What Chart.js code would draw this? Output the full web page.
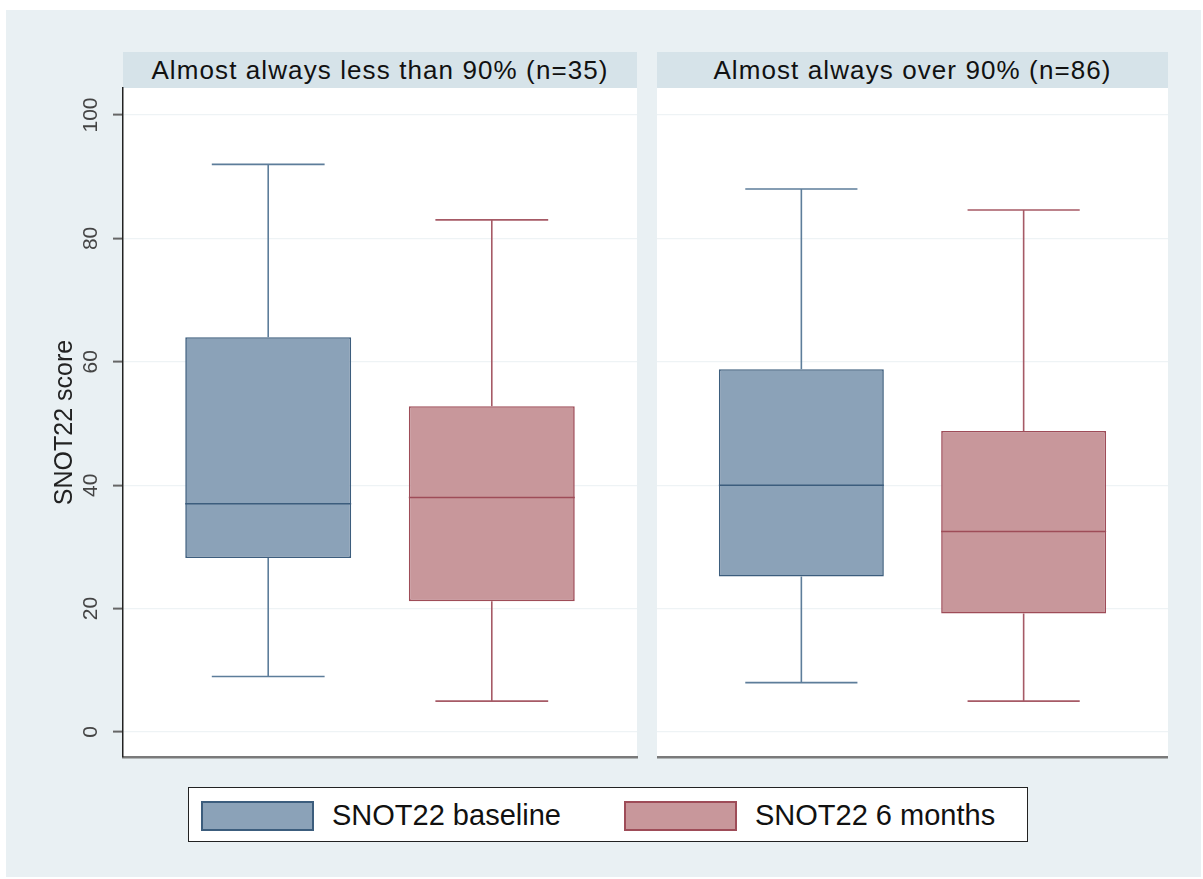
<!DOCTYPE html>
<html>
<head>
<meta charset="utf-8">
<script src="https://cdn.jsdelivr.net/npm/chart.js@4.4.1/dist/chart.umd.min.js"></script>
<style>
  html, body { margin:0; padding:0; background:#ffffff; width:1203px; height:879px; overflow:hidden; }
  #bg { position:absolute; left:6px; top:10px; width:1195px; height:867px; background:#e9f0f3; }
  .hdr { position:absolute; top:52px; height:36px; background:#d6e3e9; color:#111;
         font-family:"Liberation Sans", Arial, sans-serif; font-size:26px; letter-spacing:1.1px;
         line-height:36px; text-align:center; white-space:nowrap; }
  .cv { position:absolute; top:52px; }
  #legend { position:absolute; left:188px; top:787px; width:838px; height:53px; background:#fff;
            border:1.5px solid #222; font-family:"Liberation Sans", Arial, sans-serif; font-size:29px; color:#111; }
  .sw { position:absolute; top:13px; width:109px; height:26px; border:2px solid; }
  .lt { position:absolute; top:0; line-height:55px; white-space:nowrap; }
</style>
</head>
<body>
<div id="bg"></div>
<div class="hdr" id="h0" style="left:123px;width:514px;"></div>
<div class="hdr" id="h1" style="left:657px;width:511px;"></div>
<div class="cv" style="left:0px;width:640px;height:730px;"><canvas id="c0"></canvas></div>
<div class="cv" style="left:657px;width:511px;height:730px;"><canvas id="c1"></canvas></div>
<div id="legend"></div>
<script>
// ---- data ----
const panelTitles = ["Almost always less than 90% (n=35)", "Almost always over 90% (n=86)"];
const seriesNames = ["SNOT22 baseline", "SNOT22 6 months"];
// values per panel: [baseline, 6 months]
const whiskerLow  = [[9, 5],     [8, 5]];
const quart1      = [[28.2, 21.2], [25.2, 19.2]];
const medians     = [[37, 38],   [40, 32.5]];
const quart3      = [[64, 52.8], [58.8, 48.8]];
const whiskerHigh = [[92, 83],   [88, 84.6]];
const yTicks = [0, 20, 40, 60, 80, 100];
const yTitle = "SNOT22 score";

// ---- styles ----
const fillColors   = ["#8ba2b8", "#c8979b"];
const borderColors = ["#3c5d7d", "#9e4c58"];
const whiskerColors = ["#5d7d9a", "#a65a66"];
const FONT = "'Liberation Sans', Arial, sans-serif";

panelTitles.forEach((t, i) => document.getElementById('h' + i).textContent = t);

// legend
const lg = document.getElementById('legend');
const swX = [12, 435], txX = [143, 566];
seriesNames.forEach((n, i) => {
  const s = document.createElement('div');
  s.className = 'sw';
  s.style.left = swX[i] + 'px';
  s.style.background = fillColors[i];
  s.style.borderColor = borderColors[i];
  lg.appendChild(s);
  const t = document.createElement('div');
  t.className = 'lt';
  t.style.left = txX[i] + 'px';
  t.textContent = n;
  lg.appendChild(t);
});

const areaBg = {
  id: 'areaBg',
  beforeDraw(chart) {
    const a = chart.chartArea, ctx = chart.ctx;
    ctx.save();
    ctx.fillStyle = '#ffffff';
    ctx.fillRect(a.left, a.top, a.right - a.left, a.bottom - a.top);
    ctx.restore();
  }
};

const boxPlugin = {
  id: 'boxWhiskers',
  afterDatasetsDraw(chart) {
    const ctx = chart.ctx;
    const ys = chart.scales.y;
    const p = chart.options.plugins.boxWhiskers.panel;
    chart.data.datasets.forEach((ds, i) => {
      const bar = chart.getDatasetMeta(i).data[0];
      const x = bar.x, w = bar.width;
      const cap = w * 0.68;
      const yHi = ys.getPixelForValue(whiskerHigh[p][i]);
      const yQ3 = ys.getPixelForValue(quart3[p][i]);
      const yQ1 = ys.getPixelForValue(quart1[p][i]);
      const yLo = ys.getPixelForValue(whiskerLow[p][i]);
      const yMd = ys.getPixelForValue(medians[p][i]);
      ctx.save();
      ctx.strokeStyle = whiskerColors[i];
      ctx.lineWidth = 1.6;
      ctx.beginPath();
      ctx.moveTo(x, yHi); ctx.lineTo(x, yQ3);
      ctx.moveTo(x, yQ1); ctx.lineTo(x, yLo);
      ctx.moveTo(x - cap / 2, yHi); ctx.lineTo(x + cap / 2, yHi);
      ctx.moveTo(x - cap / 2, yLo); ctx.lineTo(x + cap / 2, yLo);
      ctx.stroke();
      ctx.strokeStyle = borderColors[i];
      ctx.lineWidth = 1.6;
      ctx.beginPath();
      ctx.moveTo(x - w / 2, yMd); ctx.lineTo(x + w / 2, yMd);
      ctx.stroke();
      ctx.restore();
    });
  }
};

const Y_MIN = -4.05, Y_MAX = 104.38;

function makeChart(id, p, showAxis) {
  const datasets = seriesNames.map((n, i) => ({
    label: n,
    data: [[quart1[p][i], quart3[p][i]]],
    backgroundColor: fillColors[i],
    borderColor: borderColors[i],
    borderWidth: 1.6,
    borderSkipped: false,
    categoryPercentage: 0.87,
    barPercentage: 0.742
  }));
  return new Chart(document.getElementById(id), {
    type: 'bar',
    data: { labels: [''], datasets },
    plugins: [areaBg, boxPlugin],
    options: {
      responsive: true,
      maintainAspectRatio: false,
      animation: false,
      layout: { padding: { top: 36, bottom: 25, left: 0, right: showAxis ? 3 : 0 } },
      plugins: {
        legend: { display: false },
        tooltip: { enabled: false },
        boxWhiskers: { panel: p }
      },
      scales: {
        x: {
          display: true,
          grid: { display: false, drawTicks: false },
          ticks: { display: false },
          border: { display: true, color: '#7a7a7a', width: 2.5 }
        },
        y: {
          min: Y_MIN, max: Y_MAX,
          afterBuildTicks: s => { s.ticks = yTicks.map(v => ({ value: v })); },
          afterFit: s => { s.width = showAxis ? 123 : 0; },
          grid: {
            color: '#eef3f5', lineWidth: 1.2,
            drawTicks: showAxis, tickLength: 10, tickColor: '#666', tickWidth: 2
          },
          border: { display: showAxis, color: '#222', width: 1.5 },
          ticks: {
            display: showAxis,
            minRotation: 90, maxRotation: 90,
            crossAlign: 'center',
            padding: 4,
            color: '#444',
            font: { family: FONT, size: 21 }
          },
          title: {
            display: showAxis,
            text: yTitle,
            color: '#222',
            font: { family: FONT, size: 25 },
            padding: { top: 50, bottom: 0 }
          }
        }
      }
    }
  });
}

makeChart('c0', 0, true);
makeChart('c1', 1, false);
</script>
</body>
</html>
